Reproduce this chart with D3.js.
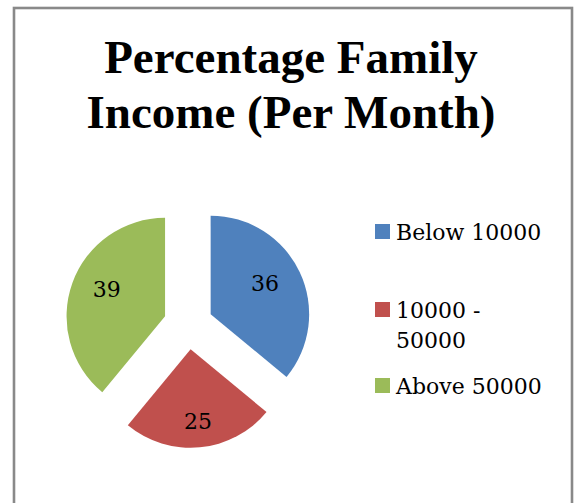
<!DOCTYPE html>
<html>
<head>
<meta charset="utf-8">
<script src="https://cdn.jsdelivr.net/npm/d3@7"></script>
<style>
  html, body { margin: 0; padding: 0; background: #fff; }
  svg { display: block; }
</style>
</head>
<body>
<svg id="chart" width="577" height="503"></svg>
<script>
// ---- data ----
const categories = ["Below 10000", "10000 - 50000", "Above 50000"];
const values = [36, 25, 39];
const colors = ["#4F81BD", "#C0504D", "#9BBB59"];
const titleLines = ["Percentage Family", "Income (Per Month)"];

// ---- layout ----
const W = 577, H = 503;
const svg = d3.select("#chart");

// frame
svg.append("rect")
  .attr("x", 14).attr("y", 8)
  .attr("width", 558).attr("height", 530)
  .attr("fill", "#fff")
  .attr("stroke", "#898989")
  .attr("stroke-width", 2.6);

// title
const title = svg.append("text")
  .attr("text-anchor", "middle")
  .attr("font-family", "'Liberation Serif', 'Times New Roman', serif")
  .attr("font-weight", "bold")
  .attr("font-size", 47)
  .attr("fill", "#000");
titleLines.forEach((t, i) => {
  title.append("tspan").attr("x", 291).attr("y", 73 + i * 55).text(t);
});

// pie
const cx = 188.3, cy = 324.7, r = 98.5, explode = 24.7;
const labelFrac = [0.61, 0.79, 0.63];   // label distance from slice tip, fraction of radius
const labelShift = -6;                    // vertical nudge of labels
const pie = d3.pie().sort(null).value(d => d.value);
const arcs = pie(values.map((v, i) => ({ value: v, name: categories[i], color: colors[i], i })));
const arc = d3.arc().innerRadius(0).outerRadius(r);

const g = svg.append("g").attr("transform", `translate(${cx},${cy})`);
const slices = g.selectAll("g.slice").data(arcs).join("g")
  .attr("class", "slice")
  .attr("transform", d => {
    const a = (d.startAngle + d.endAngle) / 2;
    return `translate(${explode * Math.sin(a)},${-explode * Math.cos(a)})`;
  });
slices.append("path")
  .attr("d", arc)
  .attr("fill", d => d.data.color);
slices.append("text")
  .attr("transform", d => {
    const lr = r * labelFrac[d.data.i];
    const c = d3.arc().innerRadius(lr).outerRadius(lr).centroid(d);
    return `translate(${c[0]},${c[1] + labelShift})`;
  })
  .attr("text-anchor", "middle")
  .attr("dy", "0.36em")
  .attr("font-family", "'DejaVu Serif', serif")
  .attr("font-size", 22)
  .attr("fill", "#000")
  .text(d => d.data.value);

// legend
const legendX = 375, textX = 396, lineH = 30, maxW = 152;
const legendBaselines = [240, 318, 394];
const legend = svg.append("g");
categories.forEach((c, i) => {
  const base = legendBaselines[i];
  legend.append("rect")
    .attr("x", legendX).attr("y", base - 16)
    .attr("width", 15).attr("height", 15)
    .attr("fill", colors[i]);
  const t = legend.append("text")
    .attr("font-family", "'DejaVu Serif', serif")
    .attr("font-size", 22)
    .attr("fill", "#000");
  // simple word wrap
  const words = c.split(" ");
  let line = [], lineNo = 0;
  let tspan = t.append("tspan").attr("x", textX).attr("y", base);
  words.forEach(w => {
    line.push(w);
    tspan.text(line.join(" "));
    if (tspan.node().getComputedTextLength() > maxW && line.length > 1) {
      line.pop();
      tspan.text(line.join(" "));
      line = [w];
      lineNo++;
      tspan = t.append("tspan").attr("x", textX).attr("y", base + lineNo * lineH).text(w);
    }
  });
});
</script>
</body>
</html>
